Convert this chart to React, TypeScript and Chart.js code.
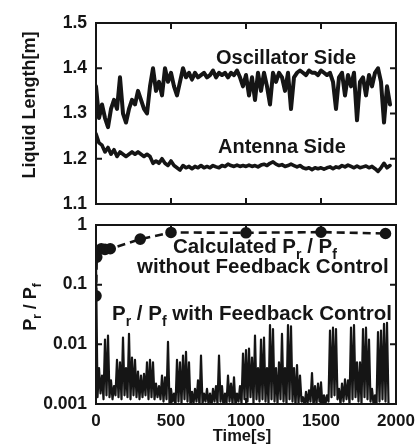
import React, { useEffect, useRef } from "react";
import { Chart, registerables } from "chart.js";

Chart.register(...registerables);

const FONT = "'Liberation Sans', Arial, Helvetica, sans-serif";
const INK = "#151515";

// ---------- data ----------
const topTimes = [
  0, 20, 40, 60, 80, 100, 120, 140, 160, 180, 200, 220, 240, 260, 280, 300, 320, 340, 360, 380,
  400, 420, 440, 460, 480, 500, 520, 540, 560, 580, 600, 620, 640, 660, 680, 700, 720, 740, 760, 780,
  800, 820, 840, 860, 880, 900, 920, 940, 960, 980, 1000, 1020, 1040, 1060, 1080, 1100, 1120, 1140, 1160, 1180,
  1200, 1220, 1240, 1260, 1280, 1300, 1320, 1340, 1360, 1380, 1400, 1420, 1440, 1460, 1480, 1500, 1520, 1540, 1560, 1580,
  1600, 1620, 1640, 1660, 1680, 1700, 1720, 1740, 1760, 1780, 1800, 1820, 1840, 1860, 1880, 1900, 1920, 1940, 1960,
];

const oscillatorSide = [
  1.36, 1.29, 1.32, 1.29, 1.27, 1.31, 1.33, 1.31, 1.38, 1.30,
  1.28, 1.31, 1.33, 1.32, 1.35, 1.33, 1.31, 1.30, 1.36, 1.40,
  1.35, 1.37, 1.34, 1.40, 1.37, 1.39, 1.36, 1.34, 1.37, 1.40,
  1.38, 1.39, 1.375, 1.39, 1.38, 1.385, 1.39, 1.38, 1.385, 1.395,
  1.38, 1.39, 1.385, 1.39, 1.38, 1.39, 1.385, 1.395, 1.38, 1.36,
  1.385, 1.34, 1.38, 1.33, 1.39, 1.35, 1.39, 1.36, 1.32, 1.39,
  1.37, 1.39, 1.38, 1.35, 1.39, 1.31, 1.38, 1.39, 1.395, 1.39,
  1.385, 1.395, 1.39, 1.39, 1.385, 1.395, 1.39, 1.385, 1.39, 1.37,
  1.31, 1.38, 1.39, 1.34, 1.385, 1.36, 1.39, 1.285, 1.37, 1.38,
  1.34, 1.385, 1.36, 1.39, 1.40, 1.37, 1.28, 1.36, 1.32,
];

const antennaSide = [
  1.255, 1.235, 1.23, 1.215, 1.225, 1.21, 1.22, 1.205, 1.215, 1.21,
  1.205, 1.21, 1.215, 1.21, 1.215, 1.21, 1.205, 1.21, 1.205, 1.19,
  1.195, 1.19, 1.2, 1.19, 1.185, 1.195, 1.185, 1.18, 1.175, 1.185,
  1.18, 1.183, 1.178, 1.183, 1.18, 1.185, 1.18, 1.183, 1.18, 1.185,
  1.182, 1.18, 1.185, 1.183, 1.188, 1.185, 1.183, 1.186, 1.183, 1.185,
  1.183, 1.186, 1.183, 1.185, 1.182, 1.186, 1.188, 1.185, 1.19, 1.193,
  1.188, 1.185, 1.187, 1.183, 1.185, 1.188, 1.185, 1.182, 1.185, 1.18,
  1.178, 1.18, 1.176, 1.18, 1.178, 1.18, 1.177, 1.18, 1.182, 1.178,
  1.182, 1.18, 1.185, 1.182, 1.186, 1.183, 1.18, 1.184, 1.18, 1.182,
  1.184, 1.18, 1.183, 1.178, 1.172, 1.18, 1.19, 1.18, 1.185,
];

const topYTicks = [1.1, 1.2, 1.3, 1.4, 1.5];
const xTickValues = [0, 500, 1000, 1500, 2000];
const innerXTicks = [500, 1000, 1500];
const bottomYTicks = [0.001, 0.01, 0.1, 1];

const calcTimes = [0, 5, 35, 60, 95, 295, 500, 1000, 1500, 1930];
const calcRatio = [0.065, 0.29, 0.4, 0.39, 0.4, 0.58, 0.75, 0.74, 0.76, 0.72];

// feedback-controlled Pr/Pf: local peaks (at topTimes[0..97]) and troughs between them
const fbPeaks = [
  0.25, 0.004, 0.003, 0.012, 0.014, 0.0025, 0.002, 0.0055, 0.005, 0.013,
  0.004, 0.015, 0.006, 0.0055, 0.0035, 0.003, 0.0032, 0.005, 0.0055, 0.005,
  0.0022, 0.002, 0.003, 0.0028, 0.011, 0.0018, 0.0015, 0.0055, 0.005, 0.0065,
  0.0075, 0.005, 0.0016, 0.0018, 0.0025, 0.0065, 0.0015, 0.0018, 0.0015, 0.0018,
  0.002, 0.0065, 0.002, 0.0015, 0.003, 0.0022, 0.0028, 0.0015, 0.002, 0.007,
  0.008, 0.0085, 0.006, 0.014, 0.004, 0.012, 0.013, 0.004, 0.021, 0.018,
  0.004, 0.005, 0.015, 0.004, 0.021, 0.02, 0.004, 0.0045, 0.003, 0.0013,
  0.0016, 0.0017, 0.0033, 0.002, 0.0022, 0.0023, 0.0014, 0.0014, 0.017, 0.019,
  0.018, 0.0018, 0.0022, 0.0026, 0.0025, 0.019, 0.021, 0.005, 0.005, 0.018,
  0.019, 0.012, 0.0018, 0.0014, 0.016, 0.017, 0.022, 0.023,
];

const fbTroughTimes = [
  10, 30, 50, 70, 90, 110, 130, 150, 170, 190, 210, 230, 250, 270, 290, 310, 330, 350, 370, 390,
  410, 430, 450, 470, 490, 510, 530, 550, 570, 590, 610, 630, 650, 670, 690, 710, 730, 750, 770, 790,
  810, 830, 850, 870, 890, 910, 930, 950, 970, 990, 1010, 1030, 1050, 1070, 1090, 1110, 1130, 1150, 1170, 1190,
  1210, 1230, 1250, 1270, 1290, 1310, 1330, 1350, 1370, 1390, 1410, 1430, 1450, 1470, 1490, 1510, 1530, 1550, 1570, 1590,
  1610, 1630, 1650, 1670, 1690, 1710, 1730, 1750, 1770, 1790, 1810, 1830, 1850, 1870, 1890, 1910, 1930, 1950,
];

const fbTroughs = [
  0.0013, 0.0015, 0.0012, 0.0014, 0.0013, 0.0012, 0.0014, 0.0013, 0.0012, 0.0014,
  0.0013, 0.0012, 0.0014, 0.0013, 0.0012, 0.0013, 0.0014, 0.0012, 0.0013, 0.0012,
  0.0013, 0.0012, 0.0011, 0.0012, 0.001, 0.0011, 0.0009, 0.0011, 0.001, 0.0012,
  0.0011, 0.0009, 0.001, 0.0011, 0.0009, 0.001, 0.0011, 0.001, 0.0009, 0.0011,
  0.001, 0.0011, 0.0009, 0.001, 0.0011, 0.001, 0.0009, 0.0011, 0.001, 0.0012,
  0.0011, 0.0013, 0.001, 0.0012, 0.0011, 0.0012, 0.0011, 0.001, 0.0012, 0.0011,
  0.001, 0.0012, 0.0011, 0.001, 0.0012, 0.0011, 0.0009, 0.001, 0.0011, 0.0009,
  0.001, 0.0011, 0.0009, 0.001, 0.0011, 0.0009, 0.001, 0.0011, 0.0013, 0.0014,
  0.0012, 0.001, 0.0011, 0.0012, 0.001, 0.0012, 0.0013, 0.0011, 0.001, 0.0013,
  0.0012, 0.0011, 0.001, 0.0009, 0.0011, 0.0012, 0.0011, 0.001,
];

// ---------- helpers ----------
type Part = { t: string; sub?: boolean };

function drawRich(
  ctx: CanvasRenderingContext2D,
  parts: Part[],
  x: number,
  y: number,
  size: number,
  align: "left" | "center" = "left"
) {
  const subSize = Math.round(size * 0.68);
  const fontOf = (p: Part) => `bold ${p.sub ? subSize : size}px ${FONT}`;
  let total = 0;
  for (const p of parts) {
    ctx.font = fontOf(p);
    total += ctx.measureText(p.t).width;
  }
  let cx = align === "center" ? x - total / 2 : x;
  ctx.textAlign = "left";
  ctx.textBaseline = "alphabetic";
  for (const p of parts) {
    ctx.font = fontOf(p);
    ctx.fillText(p.t, cx, y + (p.sub ? size * 0.3 : 0));
    cx += ctx.measureText(p.t).width;
  }
}

function framePlugin(yTicks: number[], drawTexts: (ctx: CanvasRenderingContext2D, chart: any) => void) {
  return {
    id: "frameAndText",
    afterDatasetsDraw(chart: any) {
      const { ctx, chartArea: a, scales } = chart;
      ctx.save();
      ctx.strokeStyle = INK;
      ctx.lineWidth = 2;
      ctx.strokeRect(a.left, a.top, a.right - a.left, a.bottom - a.top);
      const L = 6;
      ctx.beginPath();
      for (const v of yTicks) {
        const p = scales.y.getPixelForValue(v);
        ctx.moveTo(a.left, p);
        ctx.lineTo(a.left + L, p);
        ctx.moveTo(a.right, p);
        ctx.lineTo(a.right - L, p);
      }
      for (const v of innerXTicks) {
        const p = scales.x.getPixelForValue(v);
        ctx.moveTo(p, a.top);
        ctx.lineTo(p, a.top + L);
        ctx.moveTo(p, a.bottom);
        ctx.lineTo(p, a.bottom - L);
      }
      ctx.stroke();
      ctx.fillStyle = INK;
      drawTexts(ctx, chart);
      ctx.restore();
    },
  };
}

const noEdgePadding = (s: any) => {
  s.paddingTop = 0;
  s.paddingBottom = 0;
  s.paddingLeft = 0;
  s.paddingRight = 0;
};

const TOP_H = 212;
const BOTTOM_H = 234;
const TICK_FONT = { family: FONT, size: 17.5, weight: "bold" };

export default function App() {
  const topRef = useRef<HTMLCanvasElement | null>(null);
  const bottomRef = useRef<HTMLCanvasElement | null>(null);

  useEffect(() => {
    if (!topRef.current || !bottomRef.current) return;

    const oscData = topTimes.map((t, i) => ({ x: t, y: oscillatorSide[i] }));
    const antData = topTimes.map((t, i) => ({ x: t, y: antennaSide[i] }));

    const lineStyle = { borderColor: INK, pointRadius: 0, tension: 0, borderJoinStyle: "round", borderCapStyle: "round" };

    const topChart = new Chart(topRef.current, {
      type: "line",
      data: {
        datasets: [
          { data: oscData, borderWidth: 4, ...lineStyle },
          { data: antData, borderWidth: 3.6, ...lineStyle },
        ],
      },
      options: {
        responsive: false,
        animation: false,
        devicePixelRatio: 1,
        events: [],
        layout: { autoPadding: false, padding: { top: 23, right: 23, left: 0, bottom: 0 } },
        plugins: { legend: { display: false }, tooltip: { enabled: false } },
        scales: {
          x: {
            type: "linear",
            min: 0,
            max: 2000,
            grid: { display: false, drawTicks: false },
            border: { display: false },
            ticks: { display: false },
            afterFit: (s: any) => {
              s.height = TOP_H - 204;
              noEdgePadding(s);
            },
          },
          y: {
            type: "linear",
            min: 1.1,
            max: 1.5,
            grid: { display: false, drawTicks: false },
            border: { display: false },
            afterBuildTicks: (s: any) => {
              s.ticks = topYTicks.map((v) => ({ value: v }));
            },
            ticks: {
              color: INK,
              padding: 9,
              font: TICK_FONT,
              callback: (v: any) => Number(v).toFixed(1),
            },
            afterFit: (s: any) => {
              s.width = 96;
              noEdgePadding(s);
            },
          },
        },
      } as any,
      plugins: [
        framePlugin(topYTicks, (ctx) => {
          ctx.font = `bold 20px ${FONT}`;
          ctx.textAlign = "left";
          ctx.textBaseline = "alphabetic";
          ctx.fillText("Oscillator Side", 216, 64);
          ctx.fillText("Antenna Side", 218, 153);
          ctx.save();
          ctx.translate(28, 105);
          ctx.rotate(-Math.PI / 2);
          ctx.font = `bold 18px ${FONT}`;
          ctx.textAlign = "center";
          ctx.fillText("Liquid Length[m]", 0, 6.5);
          ctx.restore();
        }),
      ],
    });

    const fbData: { x: number; y: number }[] = [];
    for (let i = 0; i < fbPeaks.length; i++) {
      fbData.push({ x: topTimes[i], y: fbPeaks[i] });
      fbData.push({ x: fbTroughTimes[i], y: fbTroughs[i] });
    }
    const calcData = calcTimes.map((t, i) => ({ x: t, y: calcRatio[i] }));

    const bottomChart = new Chart(bottomRef.current, {
      type: "line",
      data: {
        datasets: [
          { data: fbData, borderWidth: 2.2, ...lineStyle },
          {
            data: calcData,
            borderColor: INK,
            borderWidth: 2.6,
            borderDash: [8, 5],
            pointRadius: 4.5,
            pointBackgroundColor: INK,
            pointBorderColor: INK,
            tension: 0,
          },
        ],
      },
      options: {
        responsive: false,
        animation: false,
        devicePixelRatio: 1,
        events: [],
        layout: { autoPadding: false, padding: { top: 13, right: 23, left: 0, bottom: 0 } },
        plugins: { legend: { display: false }, tooltip: { enabled: false } },
        scales: {
          x: {
            type: "linear",
            min: 0,
            max: 2000,
            grid: { display: false, drawTicks: false },
            border: { display: false },
            afterBuildTicks: (s: any) => {
              s.ticks = xTickValues.map((v) => ({ value: v }));
            },
            ticks: {
              color: INK,
              padding: 7,
              maxRotation: 0,
              autoSkip: false,
              font: { family: FONT, size: 17, weight: "bold" },
              callback: (v: any) => String(v),
            },
            afterFit: (s: any) => {
              s.height = BOTTOM_H - 192;
              noEdgePadding(s);
            },
          },
          y: {
            type: "logarithmic",
            min: 0.001,
            max: 1,
            grid: { display: false, drawTicks: false },
            border: { display: false },
            afterBuildTicks: (s: any) => {
              s.ticks = bottomYTicks.map((v) => ({ value: v }));
            },
            ticks: {
              color: INK,
              padding: 9,
              font: TICK_FONT,
              callback: (v: any) => String(v),
            },
            afterFit: (s: any) => {
              s.width = 96;
              noEdgePadding(s);
            },
          },
        },
      } as any,
      plugins: [
        framePlugin(bottomYTicks, (ctx) => {
          drawRich(ctx, [{ t: "Calculated P" }, { t: "r", sub: true }, { t: " / P" }, { t: "f", sub: true }], 173, 41, 20.5);
          drawRich(ctx, [{ t: "without Feedback Control" }], 137, 61, 20.5);
          drawRich(
            ctx,
            [{ t: "P" }, { t: "r", sub: true }, { t: " / P" }, { t: "f", sub: true }, { t: " with Feedback Control" }],
            112,
            108,
            20.5
          );
          drawRich(ctx, [{ t: "Time[s]" }], 242, 229, 16.5, "center");
          ctx.save();
          ctx.translate(29, 95);
          ctx.rotate(-Math.PI / 2);
          drawRich(ctx, [{ t: "P" }, { t: "r", sub: true }, { t: " / P" }, { t: "f", sub: true }], 0, 6.5, 18, "center");
          ctx.restore();
        }),
      ],
    });

    return () => {
      topChart.destroy();
      bottomChart.destroy();
    };
  }, []);

  return (
    <div style={{ position: "absolute", left: 0, top: 0, width: 419, height: 446, background: "#fff" }}>
      <canvas ref={topRef} width={419} height={TOP_H} style={{ position: "absolute", left: 0, top: 0 }} />
      <canvas ref={bottomRef} width={419} height={BOTTOM_H} style={{ position: "absolute", left: 0, top: TOP_H }} />
    </div>
  );
}
